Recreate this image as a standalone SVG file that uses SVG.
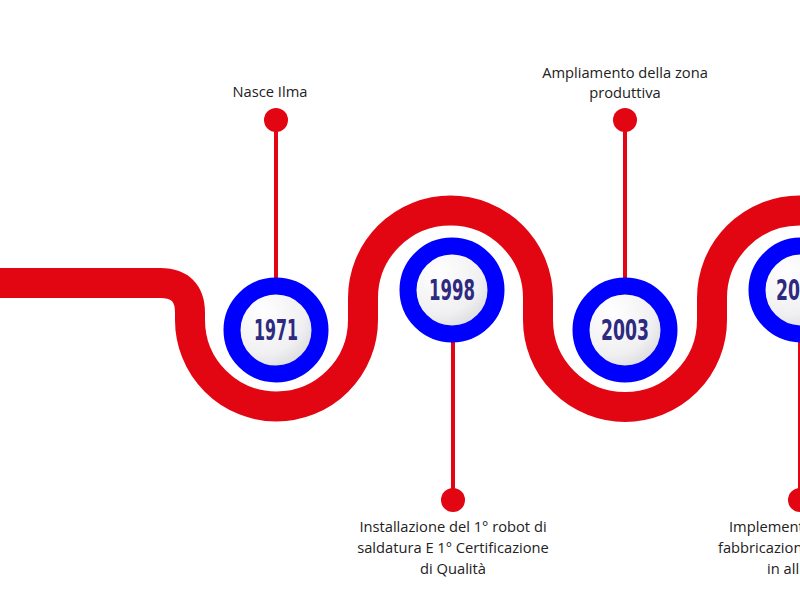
<svg xmlns="http://www.w3.org/2000/svg" width="800" height="593" viewBox="0 0 800 593">
<defs>
<radialGradient id="g" cx="0.35" cy="0.3" r="0.8"><stop offset="0" stop-color="#ffffff"/><stop offset="0.6" stop-color="#f0f0f2"/><stop offset="1" stop-color="#cfcfd4"/></radialGradient>
<style>
.band{fill:none;stroke:#e20613;stroke-width:30}
.pin{stroke:#e20613;stroke-width:4}
.dot{fill:#e20613}
.ring{fill:url(#g);stroke:#0000ff;stroke-width:17}
.yr{font-family:"DejaVu Sans Condensed","Liberation Sans",sans-serif;font-weight:bold;font-size:29px;fill:#2e2a7f;text-anchor:middle}
.lb{font-family:"Open Sans","Noto Sans",sans-serif;font-size:14.7px;fill:#222;text-anchor:middle}
</style>
</defs>
<rect width="800" height="593" fill="#fff"/>
<g id="connectors">
<path class="band" d="M0,283 H160 Q190,283 190,313 V320 A86.5,86.5 0 0 0 363,320 V298 A87.5,87.5 0 0 1 538,298 V320 A87,87 0 0 0 712,320 V298 A87,87 0 0 1 887,298"/>
<line class="pin" x1="276" y1="120" x2="276" y2="280"/>
<line class="pin" x1="625" y1="120" x2="625" y2="280"/>
<line class="pin" x1="453" y1="340" x2="453" y2="500"/>
<line class="pin" x1="800" y1="340" x2="800" y2="500"/>
</g>
<g id="n1971"><circle class="dot" cx="276" cy="120" r="12"/><circle class="ring" cx="276" cy="330" r="44"/><text class="yr" x="276" y="340" textLength="44" lengthAdjust="spacingAndGlyphs">1971</text><text class="lb" x="270" y="97">Nasce Ilma</text></g>
<g id="n1998"><circle class="dot" cx="453" cy="500" r="12"/><circle class="ring" cx="452" cy="290" r="44"/><text class="yr" x="452" y="300" textLength="46" lengthAdjust="spacingAndGlyphs">1998</text><text class="lb" x="453" y="532">Installazione del 1° robot di</text><text class="lb" x="453" y="553">saldatura E 1° Certificazione</text><text class="lb" x="453" y="574">di Qualità</text></g>
<g id="n2003"><circle class="dot" cx="625" cy="120" r="12"/><circle class="ring" cx="625" cy="330" r="44"/><text class="yr" x="625" y="340" textLength="48" lengthAdjust="spacingAndGlyphs">2003</text><text class="lb" x="625" y="78">Ampliamento della zona</text><text class="lb" x="625" y="98">produttiva</text></g>
<g id="n4"><circle class="dot" cx="800" cy="500" r="12"/><circle class="ring" cx="801" cy="290" r="44"/><text class="yr" x="776" y="300" textLength="24" lengthAdjust="spacingAndGlyphs" style="text-anchor:start">20</text><text class="lb" x="729" y="532" style="text-anchor:start">Implement</text><text class="lb" x="718" y="553" style="text-anchor:start">fabbricazion</text><text class="lb" x="767" y="574" style="text-anchor:start">in all</text></g>
</svg>
